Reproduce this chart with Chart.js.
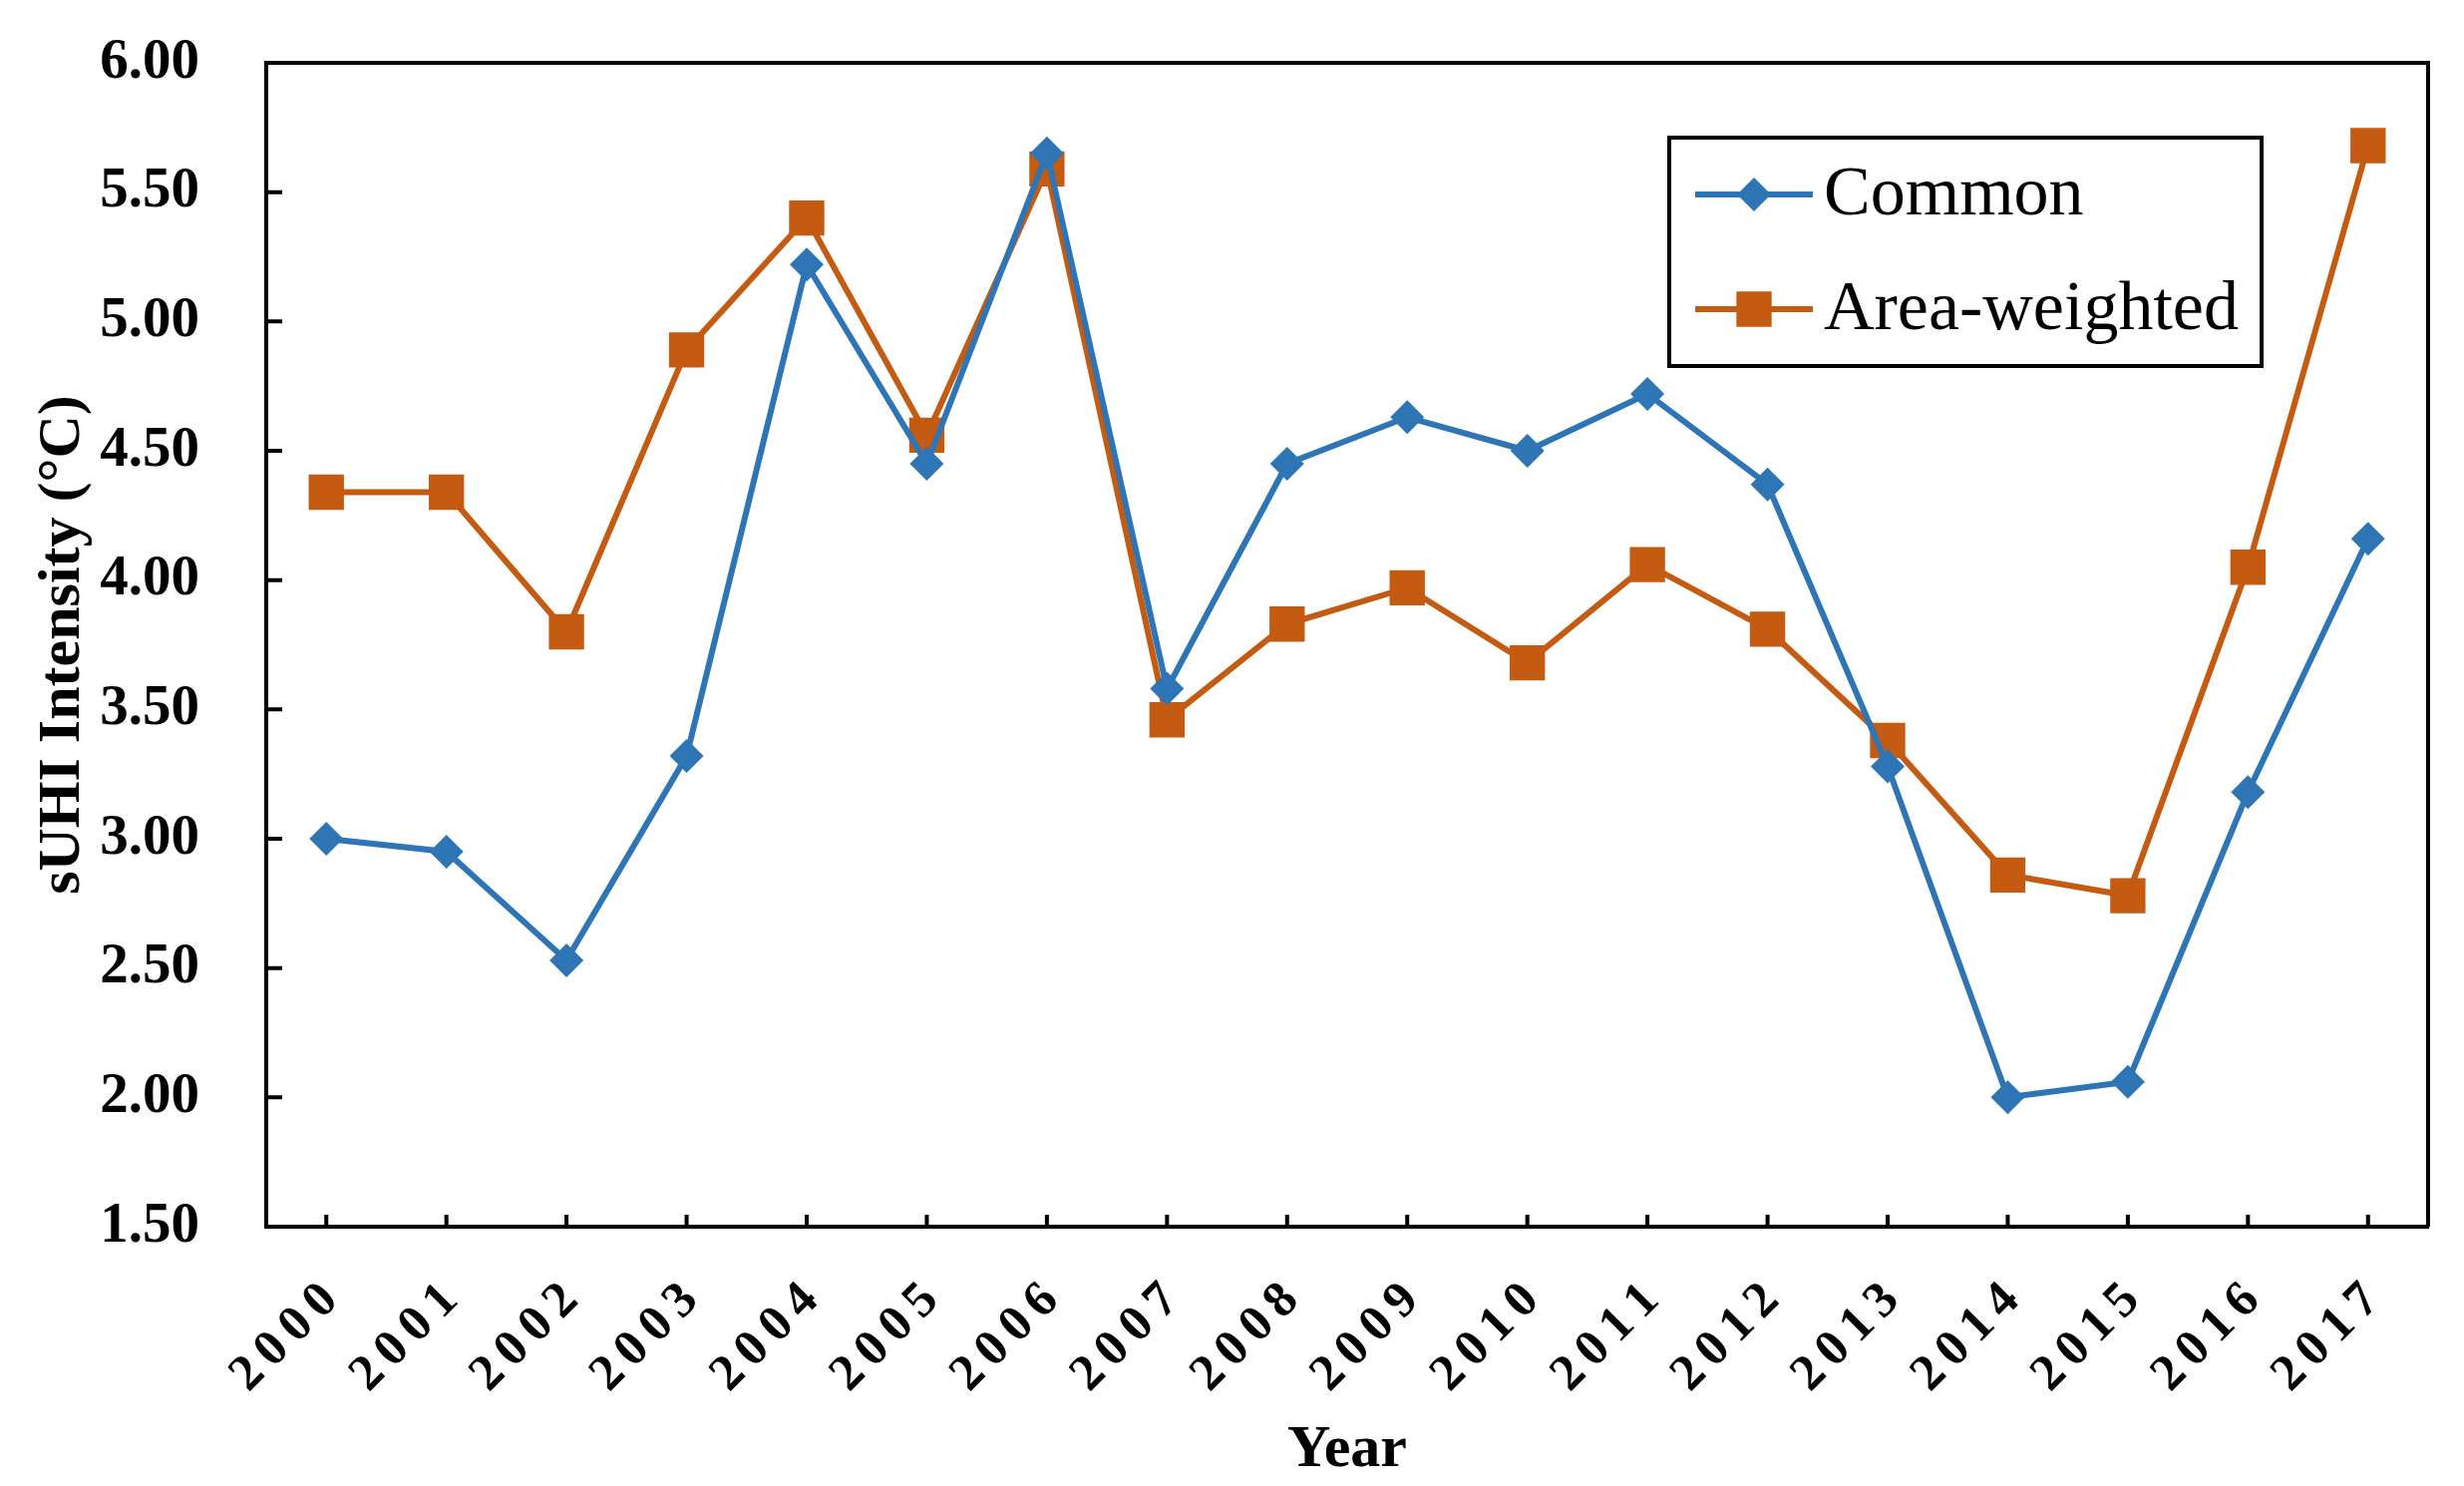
<!DOCTYPE html>
<html>
<head>
<meta charset="utf-8">
<title>sUHI Intensity</title>
<script src="https://cdn.jsdelivr.net/npm/chart.js@4.4.1/dist/chart.umd.min.js"></script>
<style>
  html, body { margin: 0; padding: 0; background: #fff; }
  #wrap { width: 2471px; height: 1490px; }
</style>
</head>
<body>
<div id="wrap"><canvas id="uhiChart" width="2471" height="1490"></canvas></div>
<script>
// ── Data ──

var years = ['2000', '2001', '2002', '2003', '2004', '2005', '2006', '2007', '2008',
             '2009', '2010', '2011', '2012', '2013', '2014', '2015', '2016', '2017'];
var common = [3.00, 2.95, 2.53, 3.32, 5.22, 4.45, 5.65, 3.58, 4.45,
              4.63, 4.50, 4.72, 4.37, 3.28, 2.00, 2.06, 3.18, 4.16];
var areaWeighted = [4.34, 4.34, 3.80, 4.89, 5.40, 4.56, 5.59, 3.46, 3.83,
                    3.97, 3.68, 4.06, 3.81, 3.38, 2.86, 2.78, 4.05, 5.68];
var yMin = 1.5, yMax = 6.0, yStep = 0.5;

var SERIF = '"Liberation Serif", "Times New Roman", serif';
var BLUE = '#2E75B6';
var ORANGE = '#C55A11';
var LABEL_SPACING = 9;
var LABEL_SHIFT = -14;
var LABEL_ANGLE = -Math.PI / 4;

// ── Category axis with spaced-out, 45° labels (like the original) ──
// each char is placed by hand along the rotated baseline

class SpacedCategoryScale extends Chart.CategoryScale {
  drawLabels(area) {
    var ctx = this.ctx, scale = this;
    var font = Chart.helpers.toFont(this.options.ticks.font);
    var pad = this.options.ticks.padding;
    this.ticks.forEach(function(t, idx) {
      var chars = String(scale.getLabelForValue(t.value)).split('');
      ctx.save();
      ctx.translate(scale.getPixelForTick(idx) + LABEL_SHIFT, scale.top + pad);
      ctx.rotate(LABEL_ANGLE);
      ctx.font = font.string;
      ctx.fillStyle = '#000';
      ctx.textBaseline = 'top';
      ctx.textAlign = 'left';
      var widths = chars.map(function(c) { return ctx.measureText(c).width; });
      var total = widths.reduce(function(a, b) { return a + b; }, 0) +
                  LABEL_SPACING * (chars.length - 1);
      var cx = -total;
      chars.forEach(function(c, i) {
        ctx.fillText(c, cx, 0);
        cx += widths[i] + LABEL_SPACING;
      });
      ctx.restore();
    });
  }
}
SpacedCategoryScale.id = 'spacedCategory';
SpacedCategoryScale.defaults = Chart.CategoryScale.defaults;
Chart.register(SpacedCategoryScale);

// ── Frame: top/right border + inward tick marks ──

var framePlugin = {
  id: 'frame',
  beforeDraw: function(chart) {
    var ctx = chart.ctx;
    ctx.save();
    ctx.fillStyle = '#fff';
    ctx.fillRect(0, 0, chart.width, chart.height);
    ctx.restore();
  },
  afterDraw: function(chart) {
    var ctx = chart.ctx, a = chart.chartArea;
    var x = chart.scales.x, y = chart.scales.y;
    ctx.save();
    ctx.strokeStyle = '#000';
    ctx.lineWidth = 4;
    ctx.beginPath();
    ctx.moveTo(a.left, a.top);
    ctx.lineTo(a.right, a.top);
    ctx.lineTo(a.right, a.bottom);
    ctx.stroke();
    ctx.beginPath();
    for (var i = 0; i < years.length; i++) {
      var px = x.getPixelForValue(i);
      ctx.moveTo(px, a.bottom);
      ctx.lineTo(px, a.bottom - 12);
    }
    y.ticks.forEach(function(t) {
      var py = y.getPixelForValue(t.value);
      ctx.moveTo(a.left, py);
      ctx.lineTo(a.left + 16, py);
    });
    ctx.stroke();
    ctx.restore();
  }
};

// ── Boxed legend inside the plot ──

var boxLegendPlugin = {
  id: 'boxLegend',
  afterDraw: function(chart) {
    var ctx = chart.ctx;
    var box = { x: 1674, y: 138, w: 594, h: 229 };
    var rows = [195, 310];
    ctx.save();
    ctx.fillStyle = '#fff';
    ctx.fillRect(box.x, box.y, box.w, box.h);
    ctx.strokeStyle = '#000';
    ctx.lineWidth = 4;
    ctx.strokeRect(box.x, box.y, box.w, box.h);
    chart.data.datasets.forEach(function(ds, i) {
      var cy = rows[i];
      ctx.strokeStyle = ds.borderColor;
      ctx.lineWidth = ds.borderWidth;
      ctx.beginPath();
      ctx.moveTo(1700, cy);
      ctx.lineTo(1818, cy);
      ctx.stroke();
      ctx.fillStyle = ds.borderColor;
      var cx = 1759, r = ds.pointRadius;
      ctx.beginPath();
      if (ds.pointStyle === 'rectRot') {
        ctx.moveTo(cx, cy - r);
        ctx.lineTo(cx + r, cy);
        ctx.lineTo(cx, cy + r);
        ctx.lineTo(cx - r, cy);
        ctx.closePath();
      } else {
        var s = r * Math.SQRT1_2;
        ctx.rect(cx - s, cy - s, 2 * s, 2 * s);
      }
      ctx.fill();
      ctx.fillStyle = '#000';
      ctx.font = '70px ' + SERIF;
      ctx.textAlign = 'left';
      ctx.textBaseline = 'middle';
      ctx.fillText(ds.label, 1829, cy + 2);
    });
    ctx.restore();
  }
};

// ── Chart ──

new Chart(document.getElementById('uhiChart'), {
  type: 'line',
  data: {
    labels: years,
    datasets: [{
      label: 'Common',
      data: common,
      borderColor: BLUE,
      backgroundColor: BLUE,
      borderWidth: 6,
      pointStyle: 'rectRot',
      pointRadius: 17,
      pointBorderWidth: 0,
      pointBackgroundColor: BLUE,
      tension: 0
    }, {
      label: 'Area-weighted',
      data: areaWeighted,
      borderColor: ORANGE,
      backgroundColor: ORANGE,
      borderWidth: 6,
      pointStyle: 'rect',
      pointRadius: 25,
      pointBorderWidth: 0,
      pointBackgroundColor: ORANGE,
      tension: 0
    }]
  },
  options: {
    responsive: false,
    animation: false,
    devicePixelRatio: 1,
    layout: { padding: { top: 63, right: 36, left: 0, bottom: 0 } },
    plugins: { legend: { display: false }, tooltip: { enabled: false } },
    scales: {
      x: {
        type: 'spacedCategory',
        offset: true,
        afterFit: function(s) {
          s.height = 260;
          s.paddingLeft = 0;
          s.paddingRight = 0;
        },
        grid: { display: false, drawTicks: false },
        border: { display: true, color: '#000', width: 4 },
        ticks: {
          color: '#000',
          padding: 48,
          minRotation: 45,
          maxRotation: 45,
          autoSkip: false,
          font: { family: SERIF, size: 51, weight: 'bold' }
        },
        title: {
          display: true,
          text: 'Year',
          color: '#000',
          padding: { top: 0, bottom: 0 },
          font: { family: SERIF, size: 60, weight: 'bold' }
        }
      },
      y: {
        min: yMin,
        max: yMax,
        afterFit: function(s) {
          s.width = 267;
          s.paddingTop = 0;
          s.paddingBottom = 0;
        },
        grid: { display: false, drawTicks: false },
        border: { display: true, color: '#000', width: 4 },
        ticks: {
          stepSize: yStep,
          color: '#000',
          padding: 67,
          font: { family: SERIF, size: 57, weight: 'bold' },
          callback: function(v) { return v.toFixed(2); }
        },
        title: {
          display: true,
          text: 'sUHI Intensity (°C)',
          color: '#000',
          padding: { top: 27, bottom: 0 },
          font: { family: SERIF, size: 60, weight: 'bold' }
        }
      }
    }
  },
  plugins: [framePlugin, boxLegendPlugin]
});
</script>
</body>
</html>
